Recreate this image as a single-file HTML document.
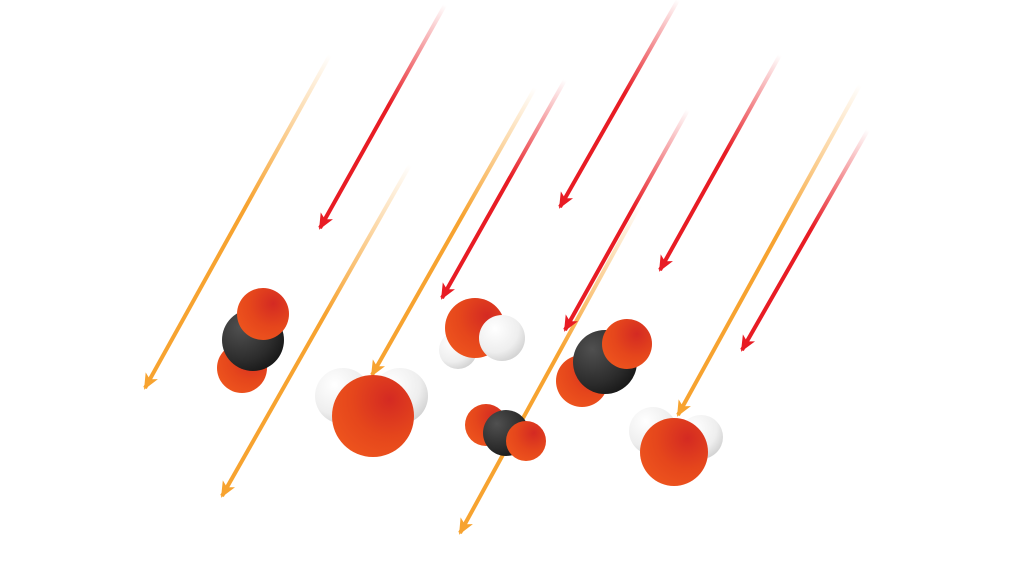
<!DOCTYPE html>
<html><head><meta charset="utf-8"><style>html,body{margin:0;padding:0;background:#fff;width:1024px;height:576px;overflow:hidden}</style></head>
<body>
<svg width="1024" height="576" viewBox="0 0 1024 576">
<defs>
<radialGradient id="gO" cx="0.7" cy="0.3" r="0.9"><stop offset="0" stop-color="#d42a22"/><stop offset="0.5" stop-color="#e5461c"/><stop offset="1" stop-color="#f0581e"/></radialGradient>
<radialGradient id="gC" cx="0.3" cy="0.3" r="0.9"><stop offset="0" stop-color="#505050"/><stop offset="0.6" stop-color="#2c2c2c"/><stop offset="1" stop-color="#0e0e0e"/></radialGradient>
<radialGradient id="gH" cx="0.35" cy="0.3" r="0.85"><stop offset="0" stop-color="#ffffff"/><stop offset="0.6" stop-color="#eeeeee"/><stop offset="1" stop-color="#c6c6c6"/></radialGradient>
</defs>
<g id="arrows"></g>
<g id="mols"></g>
</svg>
<script>
const orangeStarts=[[330,55],[410,165],[535,88],[640,205],[860,85]];
const orangeEnds=[[145,388],[222,496],[372,375],[460,533],[678,415]];
const redStarts=[[445,5],[565,80],[678,0],[688,110],[780,55],[868,130]];
const redEnds=[[320,228],[442,298],[560,207],[565,330],[660,270],[742,350]];
const NS='http://www.w3.org/2000/svg';
const ag=document.getElementById('arrows');
const defs=document.querySelector('defs');
function arrow(s,e,col,i,kind){
  const gid='ag'+kind+i;
  const lg=document.createElementNS(NS,'linearGradient');
  lg.setAttribute('id',gid);lg.setAttribute('gradientUnits','userSpaceOnUse');
  lg.setAttribute('x1',s[0]);lg.setAttribute('y1',s[1]);lg.setAttribute('x2',e[0]);lg.setAttribute('y2',e[1]);
  lg.innerHTML=`<stop offset="0" stop-color="${col}" stop-opacity="0"/><stop offset="0.45" stop-color="${col}" stop-opacity="1"/><stop offset="1" stop-color="${col}"/>`;
  defs.appendChild(lg);
  const g=document.createElementNS(NS,'g');
  
  
  const l=document.createElementNS(NS,'line');
  l.setAttribute('x1',s[0]);l.setAttribute('y1',s[1]);l.setAttribute('x2',e[0]);l.setAttribute('y2',e[1]);
  l.setAttribute('stroke','url(#'+gid+')');l.setAttribute('stroke-width',4);
  g.appendChild(l);
  const dx=e[0]-s[0],dy=e[1]-s[1],L=Math.hypot(dx,dy),ux=dx/L,uy=dy/L;
  const p=document.createElementNS(NS,'polygon');
  const bx=e[0]-ux*14,by=e[1]-uy*14;
  p.setAttribute('points',`${e[0]+ux*2},${e[1]+uy*2} ${bx-uy*7},${by+ux*7} ${bx+ux*4},${by+uy*4} ${bx+uy*7},${by-ux*7}`);
  p.setAttribute('fill',col);
  g.appendChild(p);
  ag.appendChild(g);
}
orangeStarts.forEach((s,i)=>arrow(s,orangeEnds[i],'#f7a330',i,'orange'));
redStarts.forEach((s,i)=>arrow(s,redEnds[i],'#e81c24',i,'red'));
const mg=document.getElementById('mols');
// [atom, cx, cy, r] drawn back to front
const molecules=[
 ['co2-molecule',[['O',242,368,25],['C',253,340,31],['O',263,314,26]]],
 ['water-molecule',[['H',343,396,28],['H',400,396,28],['O',373,416,41]]],
 ['water-molecule',[['H',458,350,19],['O',475,328,30],['H',502,338,23]]],
 ['co2-molecule',[['O',486,425,21],['C',506,433,23],['O',526,441,20]]],
 ['co2-molecule',[['O',582,381,26],['C',605,362,32],['O',627,344,25]]],
 ['water-molecule',[['H',653,431,24],['H',701,437,22],['O',674,452,34]]]
];
molecules.forEach(m=>{
  const g=document.createElementNS(NS,'g');
  
  
  m[1].forEach(a=>{
    const c=document.createElementNS(NS,'circle');
    c.setAttribute('cx',a[1]);c.setAttribute('cy',a[2]);c.setAttribute('r',a[3]);
    c.setAttribute('fill','url(#g'+a[0]+')');
    g.appendChild(c);
  });
  mg.appendChild(g);
});
</script>
</body></html>
